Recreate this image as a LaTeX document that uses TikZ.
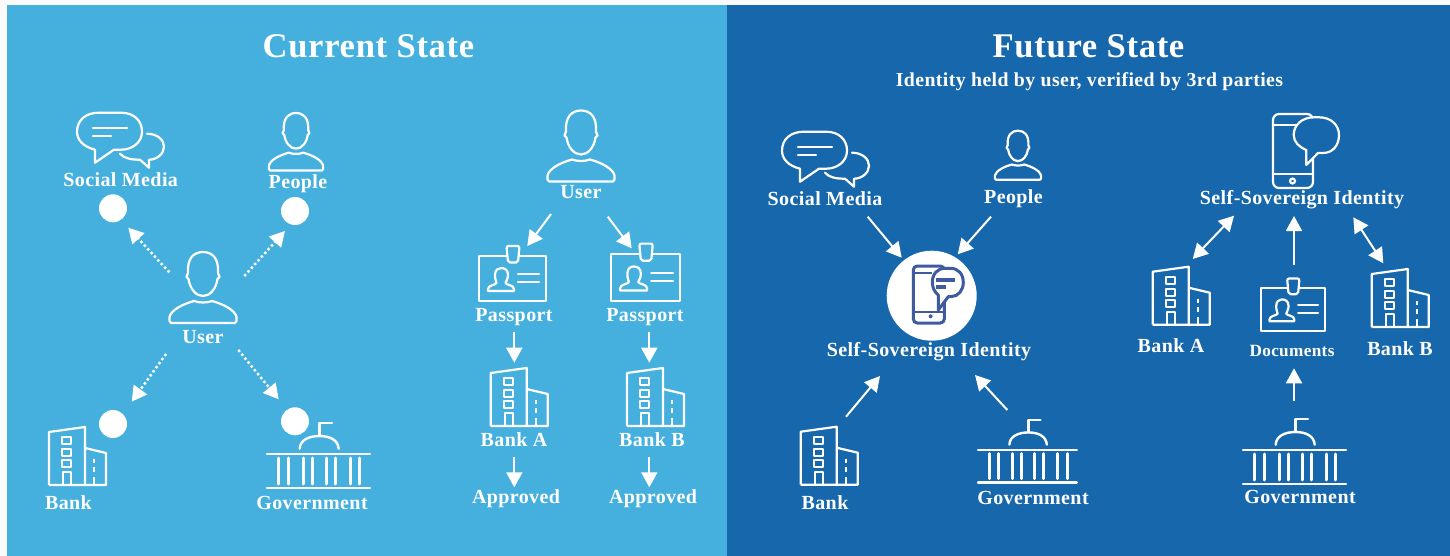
\documentclass[tikz,border=0pt]{standalone}
\usepackage{fontspec}
\setmainfont[LetterSpace=2]{Liberation Serif}
\usetikzlibrary{arrows.meta}
\definecolor{lightbg}{HTML}{45B0DE}
\definecolor{darkbg}{HTML}{1667AB}
\definecolor{pagebg}{HTML}{FAFAFA}
\definecolor{indigo}{HTML}{3F5A9E}
\newcommand{\lblfont}[1]{\fontsize{#1}{#1}\selectfont\bfseries}
\tikzset{
  x=1pt,y=-1pt,
  iconline/.style={draw=white,line width=2.2pt,line join=round,line cap=round},
  lbl/.style={text=white,inner sep=0pt,anchor=base,font=\lblfont{20}},
  smalllbl/.style={text=white,inner sep=0pt,anchor=base,font=\lblfont{17.2}},
  titlelbl/.style={text=white,inner sep=0pt,anchor=base,font=\lblfont{34.6}},
  sublbl/.style={text=white,inner sep=0pt,anchor=base,font=\lblfont{19.8}},
  solidarrow/.style={draw=white,line width=2pt,-{Triangle[length=15pt,width=16pt]}},
  bothways/.style={draw=white,line width=2pt,{Triangle[length=15pt,width=16pt]}-{Triangle[length=15pt,width=16pt]}},
  dotarrow/.style={draw=white,line width=2.5pt,dash pattern=on 2.4pt off 2.6pt,-{Triangle[length=15pt,width=16pt]}},
  whitedot/.style={circle,fill=white,draw=none,minimum size=28pt,inner sep=0pt},
  pics/personicon/.style={code={
    \draw[iconline] (-15,21) .. controls (-16,6) and (-9,0) .. (0,0) .. controls (9,0) and (16,6) .. (15,21)
      -- (16.5,25) -- (14.5,27) .. controls (13,37) and (7,44) .. (0,44) .. controls (-7,44) and (-13,37) .. (-14.5,27)
      -- (-16.5,25) -- cycle;
    \draw[iconline] (-9,49) .. controls (-4,51) and (4,51) .. (9,49) .. controls (20,52) and (32,58) .. (33.5,65)
      -- (33.5,69) -- (32,71) -- (-32,71) -- (-33.5,69) -- (-33.5,65) .. controls (-32,58) and (-20,52) .. (-9,49) -- cycle;
  }},
  pics/chaticon/.style={code={
    \draw[iconline] (18,37) .. controls (6,34) and (0,27) .. (0,19) .. controls (0,8) and (8,0) .. (22,0) -- (44,0)
      .. controls (57,0) and (65,8) .. (65,19) .. controls (65,30) and (55,37) .. (44,37) -- (37,37) -- (18,50) -- cycle;
    \draw[iconline] (70,21) .. controls (80,21) and (87,27) .. (87,34) .. controls (87,41) and (80,47) .. (72,47)
      -- (72,55) -- (63,47) .. controls (55,47) and (47,46) .. (43,41);
    \draw[iconline] (16,15) -- (50,15);
    \draw[iconline] (16,23) -- (34,23);
  }},
  pics/bankicon/.style={code={
    \draw[iconline,line cap=butt] (0,58) -- (0,5) -- (36,0) -- (36,58);
    \draw[iconline,line cap=butt] (36,21) -- (57,26) -- (57,58) -- (0,58);
    \foreach \wy in {10,22,33}{\draw[iconline,line width=2pt] (13,\wy) rectangle (22,\wy+7);}
    \draw[iconline,line width=2pt,line cap=butt] (14,58) -- (14,45) -- (22,45) -- (22,58);
    \draw[iconline,line cap=butt] (45,32) -- (45,36);
    \draw[iconline,line cap=butt] (45,40) -- (45,45);
    \draw[iconline,line cap=butt] (45,50) -- (45,58);
  }},
  pics/govicon/.style={code={
    \draw[iconline,line width=2.4pt] (0,32) -- (103,32);
    \draw[iconline,line width=2.4pt] (0,66) -- (103,66);
    \foreach \cx in {11.7,21.7,36,45.3,59.3,68.7,83.3,92.7}{\draw[iconline,line width=3pt] (\cx,36) -- (\cx,62);}
    \draw[iconline,line width=2.4pt] (32.7,26.7) .. controls (33,18) and (42,14) .. (52.5,14) .. controls (63,14) and (71,18) .. (71.7,26.7);
    \draw[iconline,line width=2.4pt] (52.5,14) -- (52.5,1) -- (65,1);
  }},
  pics/badgeicon/.style={code={
    \draw[iconline] (0,0) rectangle (67,45);
    \draw[iconline,fill=#1,rounded corners=2pt] (27.5,-10) -- (40.5,-10) -- (39,6.5) -- (29,6.5) -- cycle;
    \draw[iconline] (16,19) .. controls (16,14) and (19,12) .. (22,12) .. controls (26,12) and (29,14) .. (29,19)
      .. controls (29,23) and (27,25) .. (26.5,27) .. controls (27,29) and (35,29) .. (35,33) -- (35,35) -- (9,35) -- (9,33)
      .. controls (9,29) and (17,29) .. (17.5,27) .. controls (17,25) and (16,23) .. (16,19) -- cycle;
    \draw[iconline] (39,18.3) -- (60,18.3);
    \draw[iconline] (39,26.3) -- (60,26.3);
  }},
  pics/phoneicon/.style={code={
    \draw[iconline,rounded corners=6pt] (0,0) rectangle (40,74);
    \draw[iconline] (0,11) -- (25,11);
    \draw[iconline] (0,60) -- (40,60);
    \draw[iconline] (19.5,67) circle[radius=2.5];
    \draw[iconline,fill=darkbg] (45,39) -- (50,39) .. controls (60,39) and (66,31) .. (66,21) .. controls (66,11) and (58,3.3) .. (46,3.3)
      -- (41,3.3) .. controls (29,3.3) and (20.7,11) .. (20.7,21) .. controls (20.7,28) and (26,33) .. (33.3,36) -- (33.3,51) -- cycle;
  }},
  pics/smallphoneicon/.style={code={
    \draw[draw=indigo,line width=3pt,rounded corners=4pt] (0,0) rectangle (31,57);
    \draw[draw=indigo,line width=2.4pt] (0,7) -- (19,7);
    \draw[draw=indigo,line width=2.4pt] (0,46) -- (31,46);
    \fill[indigo] (17.3,50.3) circle[radius=2];
    \draw[draw=indigo,fill=white,line width=3pt,line join=round] (35,30.6) -- (38,30.6) .. controls (45,30.6) and (50,24) .. (50,16.5)
      .. controls (50,8) and (45,2.3) .. (37,2.3) -- (32,2.3) .. controls (24,2.3) and (19,8) .. (19,16.5) .. controls (19,22) and (22,27) .. (25,29) -- (25,44) -- cycle;
    \draw[draw=indigo,line width=3.6pt] (23,14) -- (42,14);
    \draw[draw=indigo,line width=3.6pt] (23,21) -- (33,21);
  }},
}
\begin{document}
\begin{tikzpicture}
\useasboundingbox (0,0) rectangle (1450,556);
\fill[pagebg] (0,0) rectangle (1450,556);
\fill[lightbg] (7,5) rectangle (727,556);
\fill[darkbg] (727,5) rectangle (1450,556);

% titles
\node[titlelbl] (t1) at (368.5,58) {Current State};
\node[titlelbl] (t2) at (1088.5,58) {Future State};
\node[sublbl] (t3) at (1089.5,86.5) {Identity held by user, verified by 3rd parties};

% ---- current state, left group
\pic at (77,112.7) {chaticon};
\pic[scale=.81] at (296,113) {personicon};
\pic at (203,252) {personicon};
\pic at (49,427) {bankicon};
\pic at (267,422) {govicon};
\node[lbl] (smL) at (120.7,186.7) {Social Media};
\node[lbl] (peL) at (298,189) {People};
\node[lbl] (usL) at (203,343.3) {User};
\node[lbl] (baL) at (68.5,509.3) {Bank};
\node[lbl] (goL) at (312,509.3) {Government};
\node[whitedot] (c1) at (113,208.3) {};
\node[whitedot] (c2) at (295,211) {};
\node[whitedot] (c3) at (113,424) {};
\node[whitedot] (c4) at (295,421.3) {};
\coordinate (d1a) at (169.3,272.3); \coordinate (d1b) at (128.3,227.7);
\coordinate (d2a) at (244.3,276);   \coordinate (d2b) at (285,231);
\coordinate (d3a) at (166,354);     \coordinate (d3b) at (131.7,401.7);
\coordinate (d4a) at (238.3,350);   \coordinate (d4b) at (278.7,399.3);
\draw[dotarrow] (d1a) -- (d1b);
\draw[dotarrow] (d2a) -- (d2b);
\draw[dotarrow] (d3a) -- (d3b);
\draw[dotarrow] (d4a) -- (d4b);

% ---- current state, right group
\pic at (581,110.5) {personicon};
\pic at (479,256) {badgeicon=lightbg};
\pic[scale=1.04] at (610.7,254) {badgeicon=lightbg};
\pic at (490.7,368) {bankicon};
\pic at (627,368) {bankicon};
\node[lbl] (usM) at (581,199) {User};
\node[lbl] (paA) at (514,321) {Passport};
\node[lbl] (paB) at (645,321) {Passport};
\node[lbl] (baA) at (514,446) {Bank A};
\node[lbl] (baB) at (652,446) {Bank B};
\node[lbl] (apA) at (516,503) {Approved};
\node[lbl] (apB) at (653,503) {Approved};
\coordinate (m1a) at (551,214);     \coordinate (m1b) at (527.3,246);
\coordinate (m2a) at (607.7,216.7); \coordinate (m2b) at (631.7,248.3);
\coordinate (m3a) at (514.3,332.3); \coordinate (m3b) at (514.3,362.7);
\coordinate (m4a) at (649.3,332.3); \coordinate (m4b) at (649.3,362.7);
\coordinate (m5a) at (514.3,456.7); \coordinate (m5b) at (514.3,487.3);
\coordinate (m6a) at (649.3,456.7); \coordinate (m6b) at (649.3,487.3);
\foreach \aa in {1,...,6}{\draw[solidarrow] (m\aa a) -- (m\aa b);}

% ---- future state, left group
\pic at (782,131.7) {chaticon};
\pic[scale=.69] at (1018,130.7) {personicon};
\node[circle,fill=white,minimum size=90pt,inner sep=0pt] (hub) at (931.7,295.7) {};
\pic at (913.3,266) {smallphoneicon};
\pic at (800.7,426.7) {bankicon};
\pic[scale=.96] at (978,419) {govicon};
\node[lbl] (smF) at (825,205) {Social Media};
\node[lbl] (peF) at (1013.5,203.3) {People};
\node[lbl] (ssF) at (929,356) {Self-Sovereign Identity};
\node[lbl] (baF) at (825,509) {Bank};
\node[lbl] (goF) at (1033,504.3) {Government};
\coordinate (f1a) at (867.7,216.7); \coordinate (f1b) at (901.7,257.7);
\coordinate (f2a) at (991,216.7);   \coordinate (f2b) at (957.7,254.3);
\coordinate (f3a) at (846,416.7);   \coordinate (f3b) at (880,376);
\coordinate (f4a) at (1007.3,410);  \coordinate (f4b) at (975,375);
\foreach \aa in {1,...,4}{\draw[solidarrow] (f\aa a) -- (f\aa b);}

% ---- future state, right group
\pic at (1273,114) {phoneicon};
\pic at (1152.7,266.7) {bankicon};
\pic at (1371.7,269) {bankicon};
\pic[scale=.95] at (1261,288) {badgeicon=darkbg};
\pic at (1243,418) {govicon};
\node[lbl] (ssR) at (1302,204.3) {Self-Sovereign Identity};
\node[lbl] (baR) at (1171,352) {Bank A};
\node[lbl] (baS) at (1400,355) {Bank B};
\node[smalllbl] (doR) at (1292,356.7) {Documents};
\node[lbl] (goR) at (1300,503.3) {Government};
\coordinate (r1a) at (1192.7,259);  \coordinate (r1b) at (1234,215.7);
\coordinate (r2a) at (1353.3,217.3);\coordinate (r2b) at (1383.3,263.3);
\coordinate (r3a) at (1294,265);    \coordinate (r3b) at (1294,216);
\coordinate (r4a) at (1294,400.7);  \coordinate (r4b) at (1294,368.3);
\draw[bothways] (r1a) -- (r1b);
\draw[bothways] (r2a) -- (r2b);
\draw[solidarrow] (r3a) -- (r3b);
\draw[solidarrow] (r4a) -- (r4b);
\end{tikzpicture}
\end{document}
